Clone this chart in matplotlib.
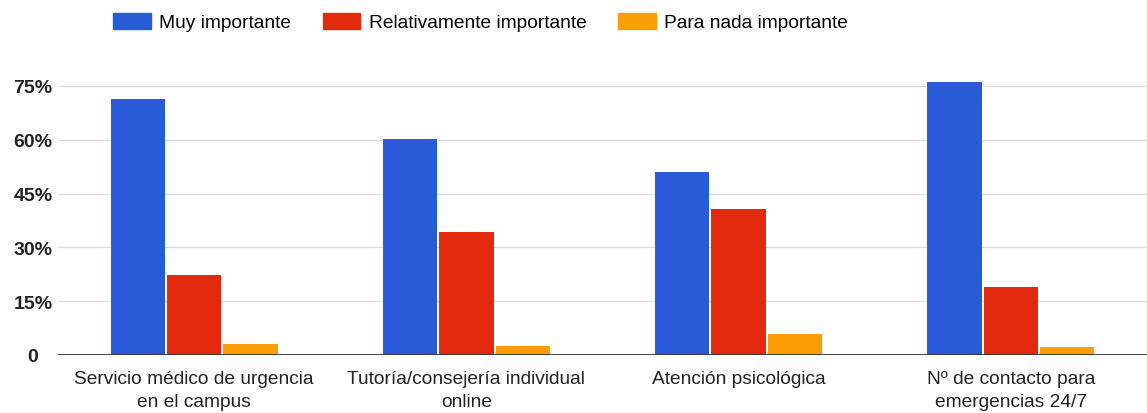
import numpy as np
import matplotlib
matplotlib.use('Agg')
import matplotlib.pyplot as plt
from matplotlib.patches import Patch

# Datos
categorias = ['Servicio médico de urgencia\nen el campus',
              'Tutoría/consejería individual\nonline',
              'Atención psicológica',
              'Nº de contacto para\nemergencias 24/7']
muy_importante = [71.5, 60.3, 51.0, 76.2]
relativamente = [22.4, 34.2, 40.6, 19.0]
nada_importante = [3.0, 2.6, 5.8, 2.3]
series = ['Muy importante', 'Relativamente importante', 'Para nada importante']
yticks = [0, 15, 30, 45, 60, 75]
ytick_labels = ['0', '15%', '30%', '45%', '60%', '75%']

colores = ['#2a5bd7', '#e3290e', '#fb9f05']

plt.rcParams['font.family'] = ['Liberation Sans', 'DejaVu Sans']

fig = plt.figure(figsize=(11.47, 4.14), dpi=100)
ax = fig.add_axes([58 / 1147, 1 - 356 / 414, 1 - 58 / 1147, (356 - 78) / 414])

x = np.arange(len(categorias))
ancho = 0.2
sep = 0.207
for i, (vals, col) in enumerate(zip([muy_importante, relativamente, nada_importante], colores)):
    ax.bar(x + (i - 1) * sep, vals, width=ancho, color=col, zorder=3)

ax.set_xlim(-0.5, 3.5)
ax.set_ylim(0, 77.5)
ax.set_yticks(yticks)
ax.set_yticklabels(ytick_labels, fontsize=14, color='#222222', fontweight='bold',
                   ha='center')
ax.set_xticks(x)
ax.set_xticklabels(categorias, fontsize=13.8, color='#222222', linespacing=1.45)
ax.tick_params(axis='both', length=0)
ax.tick_params(axis='y', pad=18)
ax.tick_params(axis='x', pad=11)

for y in yticks[1:]:
    ax.axhline(y, color='#dcdcdc', linewidth=1, zorder=1)
ax.axhline(0, color='#333333', linewidth=1.3, zorder=4)

for lado in ['top', 'right', 'left', 'bottom']:
    ax.spines[lado].set_visible(False)

# Leyenda
handles = [Patch(facecolor=c, edgecolor=c) for c in colores]
fig.legend(handles, series, loc='center left', bbox_to_anchor=(96 / 1147, 1 - 23 / 414),
           ncol=3, frameon=False, fontsize=13.8, handlelength=1.95, handleheight=0.9,
           columnspacing=1.65, handletextpad=0.45)

fig.savefig('out.png', dpi=100, facecolor='white')
